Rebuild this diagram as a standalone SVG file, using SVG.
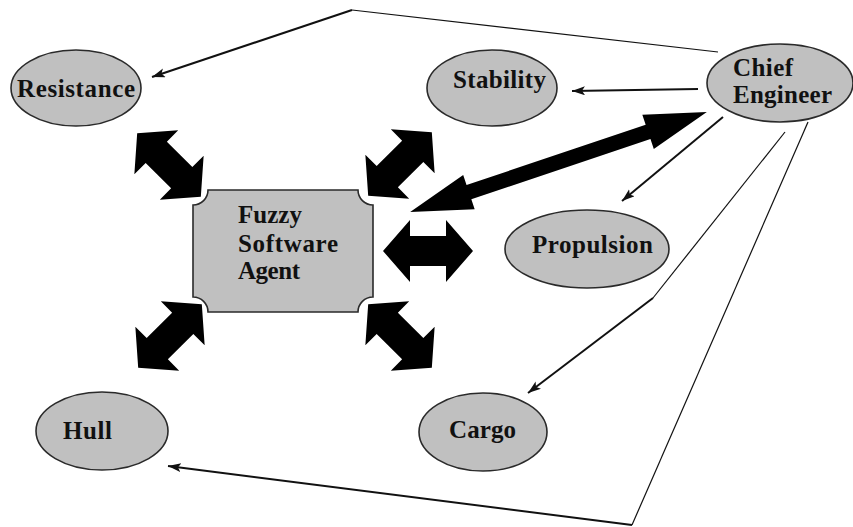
<svg xmlns="http://www.w3.org/2000/svg" width="853" height="527" viewBox="0 0 853 527">
<style>
.node{fill:#c0c0c0;stroke:#2a2a2a;stroke-width:1.6}
.lbl{font-family:"Liberation Serif","Times New Roman",serif;font-weight:bold;font-size:25px;fill:#111}
.thin{fill:none;stroke:#111;stroke-width:1.2}
.arr{fill:none;stroke:#111;stroke-width:2}
.blk{fill:#000}
</style>
<defs>
<marker id="ah" markerUnits="userSpaceOnUse" markerWidth="14" markerHeight="10" refX="13" refY="4.5" orient="auto">
<path d="M0,0 L13,4.5 L0,9 L3,4.5 z" fill="#111"/>
</marker>
<path id="dbl" d="M-45,0 L-18,-31 L-18,-15 L18,-15 L18,-31 L45,0 L18,31 L18,15 L-18,15 L-18,31 Z"/>
</defs>
<rect width="853" height="527" fill="#fff"/>
<g id="connectors">
<polyline class="thin" points="718,52 352,10"/>
<line class="arr" x1="352" y1="10" x2="152" y2="77" marker-end="url(#ah)"/>
<line class="arr" x1="698" y1="89" x2="572" y2="91" marker-end="url(#ah)"/>
<line class="arr" x1="723" y1="117" x2="622" y2="201" marker-end="url(#ah)"/>
<polyline class="thin" points="785,132 653,298"/>
<line class="arr" x1="653" y1="298" x2="528" y2="393" marker-end="url(#ah)"/>
<polyline class="thin" points="808,122 632,525"/>
<line class="arr" x1="632" y1="525" x2="168" y2="466" marker-end="url(#ah)"/>
<path class="blk" transform="translate(558.5,162) rotate(-18.6)" d="M-156.5,0 L-94.5,-18 L-94.5,-7.5 L94.5,-7.5 L94.5,-18 L156.5,0 L94.5,18 L94.5,7.5 L-94.5,7.5 L-94.5,18 Z"/>
<use href="#dbl" class="blk" transform="translate(169,165) rotate(45)"/>
<use href="#dbl" class="blk" transform="translate(400,164) rotate(-45)"/>
<use href="#dbl" class="blk" transform="translate(170,336) rotate(-45)"/>
<use href="#dbl" class="blk" transform="translate(400,336) rotate(45)"/>
<use href="#dbl" class="blk" transform="translate(428,251)"/>
</g>
<g id="resistance">
<ellipse class="node" cx="76" cy="88" rx="65" ry="38"/>
<text class="lbl" x="17" y="97" textLength="118" lengthAdjust="spacing">Resistance</text>
</g>
<g id="stability">
<ellipse class="node" cx="492" cy="88" rx="65" ry="38"/>
<text class="lbl" x="453" y="88" textLength="93" lengthAdjust="spacing">Stability</text>
</g>
<g id="chief-engineer">
<ellipse class="node" cx="780" cy="83" rx="73" ry="39"/>
<text class="lbl" x="733" y="76" textLength="60" lengthAdjust="spacing">Chief</text>
<text class="lbl" x="733" y="103" textLength="99" lengthAdjust="spacing">Engineer</text>
</g>
<g id="fuzzy-software-agent">
<path class="node" d="M208,190 L358,190 A15,15 0 0 0 373,205 L373,297 A15,15 0 0 0 358,312 L208,312 A15,15 0 0 0 193,297 L193,205 A15,15 0 0 0 208,190 Z"/>
<text class="lbl" x="238" y="223" textLength="64" lengthAdjust="spacing">Fuzzy</text>
<text class="lbl" x="238" y="252" textLength="100" lengthAdjust="spacing">Software</text>
<text class="lbl" x="238" y="279" textLength="62" lengthAdjust="spacing">Agent</text>
</g>
<g id="propulsion">
<ellipse class="node" cx="587" cy="249" rx="82" ry="39"/>
<text class="lbl" x="532" y="253" textLength="121" lengthAdjust="spacing">Propulsion</text>
</g>
<g id="cargo">
<ellipse class="node" cx="483" cy="432" rx="64" ry="39"/>
<text class="lbl" x="449" y="438" textLength="67" lengthAdjust="spacing">Cargo</text>
</g>
<g id="hull">
<ellipse class="node" cx="102" cy="431" rx="66" ry="39"/>
<text class="lbl" x="63" y="439" textLength="49" lengthAdjust="spacing">Hull</text>
</g>
</svg>
